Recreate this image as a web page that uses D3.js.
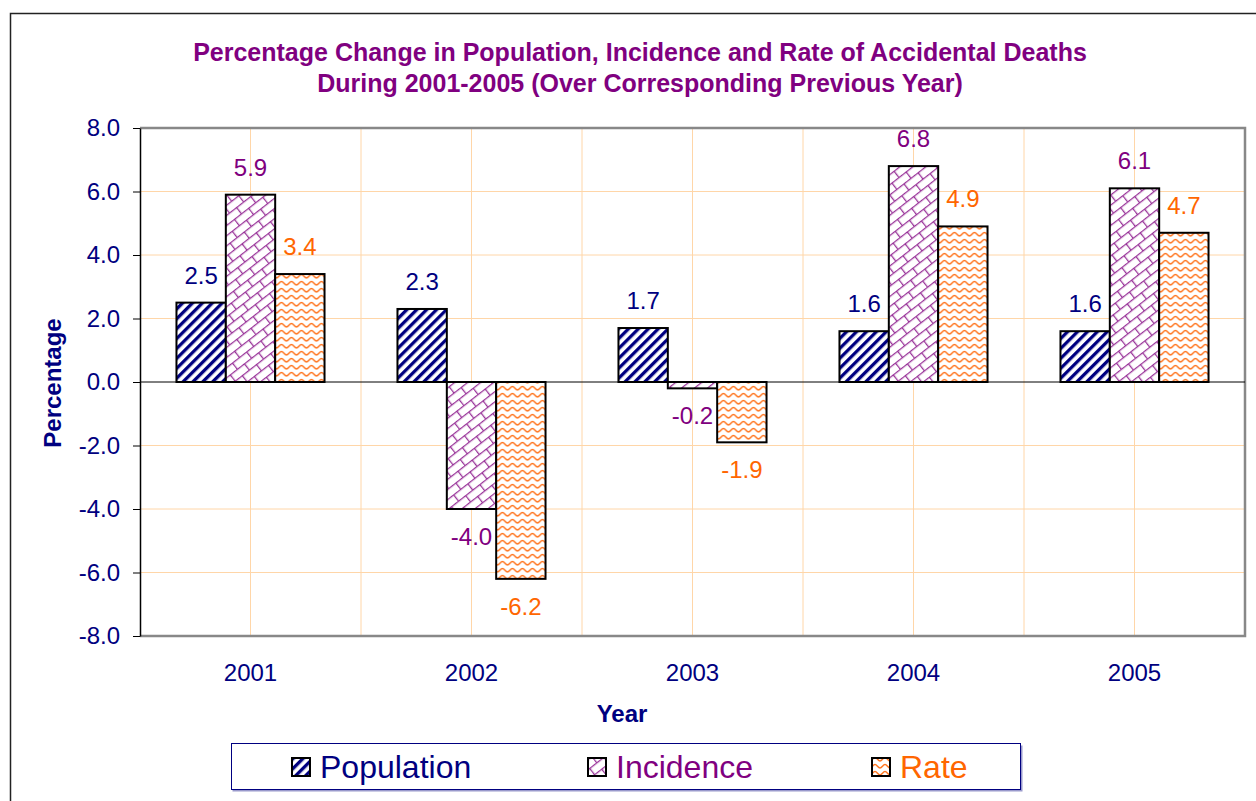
<!DOCTYPE html>
<html>
<head>
<meta charset="utf-8">
<script src="https://cdn.jsdelivr.net/npm/d3@7/dist/d3.min.js"></script>
<style>
  body { margin: 0; background: #fff; }
  svg text { font-family: "Liberation Sans", Arial, sans-serif; }
</style>
</head>
<body>
<div id="chart"></div>
<script>
// data
var years = ["2001", "2002", "2003", "2004", "2005"];
var seriesNames = ["Population", "Incidence", "Rate"];
var population = [2.5, 2.3, 1.7, 1.6, 1.6];
var incidence = [5.9, -4.0, -0.2, 6.8, 6.1];
var rate = [3.4, -6.2, -1.9, 4.9, 4.7];
var yTicks = [-8, -6, -4, -2, 0, 2, 4, 6, 8];
var titleLines = ["Percentage Change in Population, Incidence and Rate of Accidental Deaths",
                  "During 2001-2005 (Over Corresponding Previous Year)"];

var seriesValues = [population, incidence, rate];
var colors = ["#000080", "#800080", "#FF6600"];
var patternIds = ["pat-pop", "pat-inc", "pat-rate"];

var W = 1256, H = 801;
var plot = { left: 140, right: 1245, top: 128, bottom: 636 };
var fmt = function (v) { return v.toFixed(1); }; // plain hyphen for negatives

var svg = d3.select("#chart").append("svg")
    .attr("width", W).attr("height", H);

// patterns
var defs = svg.append("defs");
var p1 = defs.append("pattern").attr("id", "pat-pop")
    .attr("patternUnits", "userSpaceOnUse")
    .attr("width", 7).attr("height", 7)
    .attr("patternTransform", "rotate(45)");
p1.append("rect").attr("width", 7).attr("height", 7).attr("fill", "#fff");
p1.append("rect").attr("width", 3.3).attr("height", 7).attr("fill", "#000080");

var p2 = defs.append("pattern").attr("id", "pat-inc")
    .attr("patternUnits", "userSpaceOnUse")
    .attr("width", 18).attr("height", 16)
    .attr("patternTransform", "rotate(-38)");
p2.append("rect").attr("width", 18).attr("height", 16).attr("fill", "#fff");
p2.append("path")
    .attr("d", "M0 0.6H18 M0 8.6H18 M0.6 0V8.6 M9.6 8.6V16")
    .attr("stroke", "#993399").attr("stroke-width", 1.3).attr("fill", "none");

var p3 = defs.append("pattern").attr("id", "pat-rate")
    .attr("patternUnits", "userSpaceOnUse")
    .attr("width", 10).attr("height", 7);
p3.append("rect").attr("width", 10).attr("height", 7).attr("fill", "#fff");
p3.append("path")
    .attr("d", "M0 5 C2 5 3 1.5 5 1.5 C7 1.5 8 5 10 5")
    .attr("stroke", "#FF7722").attr("stroke-width", 1.5).attr("fill", "none");

// outer chart border
svg.append("rect")
    .attr("x", 10.5).attr("y", 13.5)
    .attr("width", W + 20).attr("height", H + 20)
    .attr("fill", "none").attr("stroke", "#222").attr("stroke-width", 1.5);

// title
svg.append("text")
    .attr("x", 640).attr("y", 61)
    .attr("text-anchor", "middle")
    .attr("font-size", 25).attr("font-weight", "bold")
    .attr("fill", "#800080")
    .selectAll("tspan").data(titleLines).enter().append("tspan")
    .attr("x", 640).attr("dy", function (d, i) { return i ? 31 : 0; })
    .text(function (d) { return d; });

// scales
var x0 = d3.scaleBand().domain(years)
    .range([plot.left, plot.right])
    .paddingInner(0.33).paddingOuter(0.165);
var x1 = d3.scaleBand().domain(seriesNames)
    .range([0, x0.bandwidth()]);
var y = d3.scaleLinear().domain([-8, 8]).range([plot.bottom, plot.top]);

// grid
var grid = svg.append("g");
var step = x0.step();
var vLines = [];
years.forEach(function (yr, i) {
    vLines.push(x0(yr) + x0.bandwidth() / 2);
    if (i > 0) vLines.push(x0(yr) + x0.bandwidth() / 2 - step / 2);
});
grid.selectAll(".vg").data(vLines).enter().append("line")
    .attr("x1", function (d) { return d; }).attr("x2", function (d) { return d; })
    .attr("y1", plot.top).attr("y2", plot.bottom)
    .attr("stroke", "#FFD6A8").attr("stroke-width", 1);
grid.selectAll(".hg").data(yTicks.filter(function (t) { return t !== 0 && t !== 8 && t !== -8; }))
    .enter().append("line")
    .attr("x1", plot.left).attr("x2", plot.right)
    .attr("y1", function (d) { return y(d); }).attr("y2", function (d) { return y(d); })
    .attr("stroke", "#FFD6A8").attr("stroke-width", 1);

// plot border (gray) top, right, bottom
svg.append("path")
    .attr("d", "M" + plot.left + "," + plot.top + "H" + plot.right + "V" + plot.bottom + "H" + plot.left)
    .attr("fill", "none").attr("stroke", "#888").attr("stroke-width", 2.5);

// bars
var groups = svg.append("g").selectAll("g").data(years).enter().append("g")
    .attr("transform", function (d) { return "translate(" + x0(d) + ",0)"; });

groups.each(function (yr, i) {
    var g = d3.select(this);
    seriesNames.forEach(function (s, k) {
        var v = seriesValues[k][i];
        g.append("rect")
            .attr("x", x1(s))
            .attr("y", y(Math.max(0, v)))
            .attr("width", x1.bandwidth())
            .attr("height", Math.abs(y(v) - y(0)))
            .attr("fill", "url(#" + patternIds[k] + ")")
            .attr("stroke", "#000").attr("stroke-width", 2);
        g.append("text")
            .attr("x", x1(s) + x1.bandwidth() / 2)
            .attr("y", v >= 0 ? y(v) - 19 : y(v) + 36)
            .attr("text-anchor", "middle")
            .attr("font-size", 24)
            .attr("fill", colors[k])
            .text(fmt(v));
    });
});

// zero line
svg.append("line")
    .attr("x1", plot.left).attr("x2", plot.right)
    .attr("y1", y(0)).attr("y2", y(0))
    .attr("stroke", "#000").attr("stroke-width", 1);

// y axis
var yAxis = d3.axisLeft(y).tickValues(yTicks)
    .tickFormat(fmt).tickSizeInner(7).tickSizeOuter(0).tickPadding(13);
var ya = svg.append("g")
    .attr("transform", "translate(" + plot.left + ",0)")
    .call(yAxis);
ya.select(".domain").attr("stroke", "#000").attr("stroke-width", 1.5);
ya.selectAll(".tick line").attr("stroke", "#000");
ya.selectAll(".tick text")
    .attr("font-size", 24).attr("fill", "#000080")
    .attr("font-family", "'Liberation Sans', Arial, sans-serif");

// x labels
svg.append("g").selectAll("text").data(years).enter().append("text")
    .attr("x", function (d) { return x0(d) + x0.bandwidth() / 2; })
    .attr("y", 681)
    .attr("text-anchor", "middle")
    .attr("font-size", 24).attr("fill", "#000080")
    .text(function (d) { return d; });

// axis titles
svg.append("text")
    .attr("x", 622).attr("y", 722)
    .attr("text-anchor", "middle")
    .attr("font-size", 24).attr("font-weight", "bold").attr("fill", "#000080")
    .text("Year");
svg.append("text")
    .attr("transform", "translate(61,383) rotate(-90)")
    .attr("text-anchor", "middle")
    .attr("font-size", 24).attr("font-weight", "bold").attr("fill", "#000080")
    .text("Percentage");

// legend
var legend = svg.append("g");
legend.append("rect")
    .attr("x", 232.5).attr("y", 745.5).attr("width", 790).attr("height", 46)
    .attr("fill", "#9999cc");
legend.append("rect")
    .attr("x", 231.5).attr("y", 743.5).attr("width", 789).attr("height", 46)
    .attr("fill", "#fff").attr("stroke", "#000080").attr("stroke-width", 1);
var legendX = [292, 588, 872];
seriesNames.forEach(function (s, k) {
    legend.append("rect")
        .attr("x", legendX[k]).attr("y", 758)
        .attr("width", 18).attr("height", 18)
        .attr("fill", "url(#" + patternIds[k] + ")")
        .attr("stroke", "#000").attr("stroke-width", 2);
    legend.append("text")
        .attr("x", legendX[k] + 28).attr("y", 778)
        .attr("font-size", 32).attr("fill", colors[k])
        .text(s);
});
</script>
</body>
</html>
